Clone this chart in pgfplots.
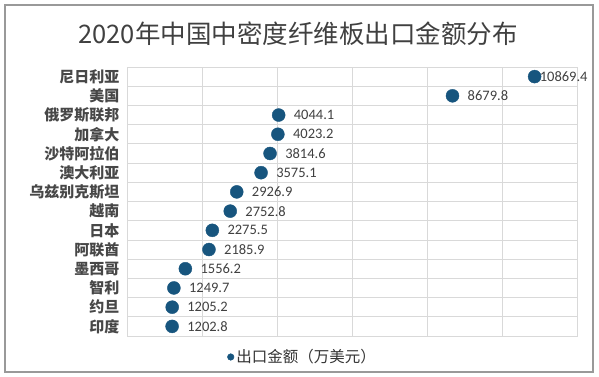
\documentclass[border=0pt]{standalone}
\usepackage{pgfplots}
\pgfplotsset{compat=1.18}
\usepackage{fontspec}
\setmainfont{Carlito}
\newfontfamily\cjk{Noto Sans CJK SC}
\definecolor{dot}{HTML}{17557E}
\definecolor{txt}{HTML}{404040}
\definecolor{gridc}{HTML}{D9D9D9}
\begin{document}
\begin{tikzpicture}[x=1pt,y=1pt]
\path (0,0) rectangle (599,376);
\draw[color=black!40, line width=1.2pt] (5,4) rectangle (593,371);
\node[font=\cjk\fontsize{25.5}{30}\selectfont, text=txt] at (298,342) {2020年中国中密度纤维板出口金额分布};
\begin{axis}[at={(127pt,40pt)}, anchor=south west, scale only axis,
  width=450pt, height=269pt,
  xmin=0, xmax=12000, ymin=0.5, ymax=14.5,
  scaled x ticks=false,
  xtick={0,2000,...,12000}, xticklabels={},
  ytick={1,...,14},
  yticklabels={印度,约旦,智利,墨西哥,阿联酋,日本,越南,乌兹别克斯坦,澳大利亚,沙特阿拉伯,加拿大,俄罗斯联邦,美国,尼日利亚},
  minor ytick={1.5,2.5,...,13.5},
  xmajorgrids, yminorgrids,
  grid style={gridc, line width=0.8pt},
  minor grid style={gridc, line width=0.8pt},
  major tick length=0, minor tick length=0,
  axis line style={gridc, line width=0.8pt},
  yticklabel style={font=\cjk\bfseries\fontsize{15}{18}\selectfont, text=black!72, xshift=-4pt},
  legend style={at={(0.39,-0.078)}, anchor=center, draw=none, fill=none,
    font=\cjk\fontsize{15.5}{18}\selectfont, text=black!80},
  legend image code/.code={\fill[dot] (0.35em,0pt) circle (3.3pt);},
]
\addplot[only marks, mark=*, mark size=6.5pt, color=dot,
  nodes near coords, point meta=explicit symbolic,
  nodes near coords style={anchor=west, inner sep=1pt, xshift=14pt,
    font=\fontsize{14.5}{17}\selectfont, text=txt}]
  coordinates {
  (1202.8,1) [1202.8]
  (1205.2,2) [1205.2]
  (1249.7,3) [1249.7]
  (1556.2,4) [1556.2]
  (2185.9,5) [2185.9]
  (2275.5,6) [2275.5]
  (2752.8,7) [2752.8]
  (2926.9,8) [2926.9]
  (3575.1,9) [3575.1]
  (3814.6,10) [3814.6]
  (4023.2,11) [4023.2]
  (4044.1,12) [4044.1]
  (8679.8,13) [8679.8]
  };
\addlegendentry{出口金额（万美元）}
\addplot[only marks, mark=*, mark size=6.5pt, color=dot, forget plot,
  nodes near coords, point meta=explicit symbolic,
  nodes near coords style={anchor=west, inner sep=1pt, xshift=4pt,
    font=\fontsize{14.5}{17}\selectfont, text=txt}]
  coordinates {
  (10869.4,14) [10869.4]
  };
\end{axis}
\end{tikzpicture}
\end{document}
